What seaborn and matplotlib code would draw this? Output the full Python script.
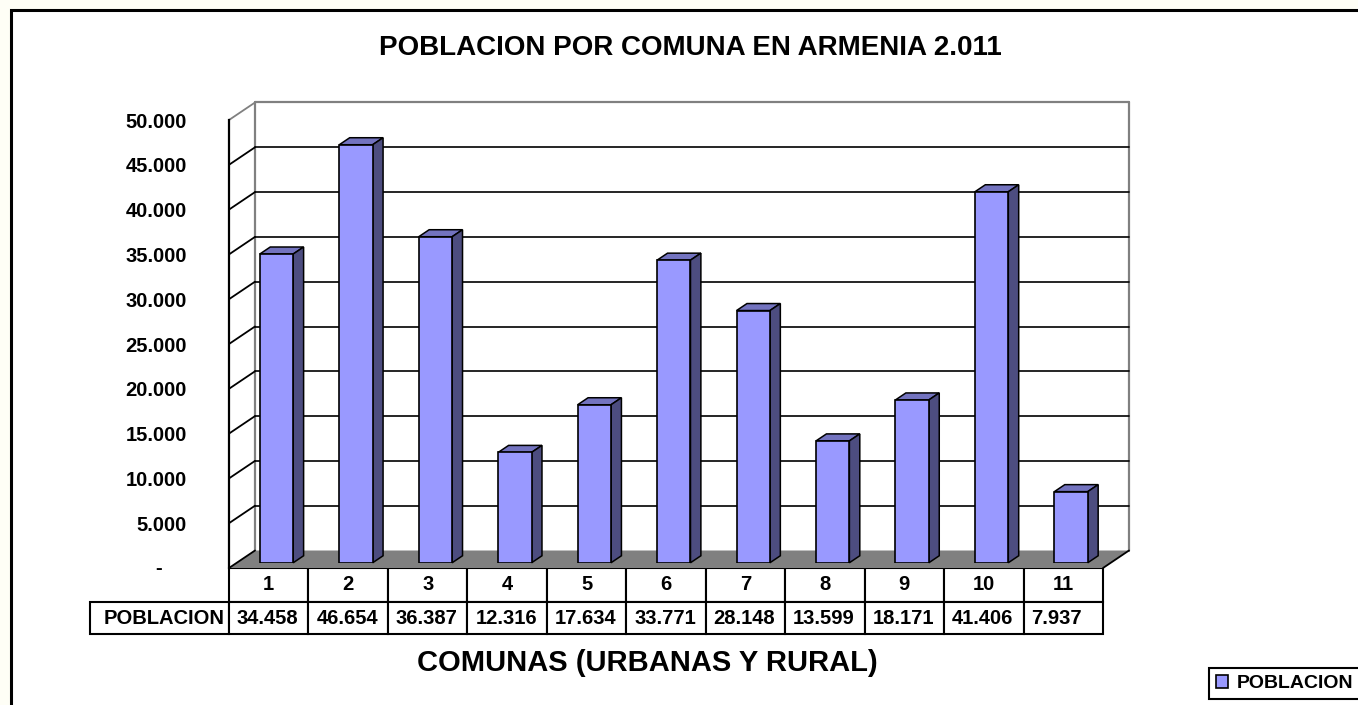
import matplotlib
matplotlib.use("Agg")
import matplotlib.pyplot as plt
import seaborn as sns
from matplotlib.patches import Polygon, Rectangle
from matplotlib.table import Table
from matplotlib.ticker import FixedLocator, FuncFormatter

# ---------------- data ----------------
comunas = ["1", "2", "3", "4", "5", "6", "7", "8", "9", "10", "11"]
poblacion = [34458, 46654, 36387, 12316, 17634, 33771, 28148, 13599, 18171, 41406, 7937]
y_ticks = [0, 5000, 10000, 15000, 20000, 25000, 30000, 35000, 40000, 45000, 50000]
series_name = "POBLACION"
title = "POBLACION POR COMUNA EN ARMENIA 2.011"
x_title = "COMUNAS (URBANAS Y RURAL)"


def fmt(v):
    return f"{int(round(v)):,}".replace(",", ".")


# ---------------- style ----------------
sns.set_style("white")
plt.rcParams["font.family"] = ["Liberation Sans", "DejaVu Sans"]
plt.rcParams["font.weight"] = "bold"
plt.rcParams["text.color"] = "black"
plt.rcParams["axes.labelcolor"] = "black"
plt.rcParams["ytick.color"] = "black"

FRONT = "#9999FF"
SIDE = "#4D4D80"
TOP = "#7373BF"
FLOOR = "#808080"
WALL = "#808080"

W, H = 1358, 705
fig = plt.figure(figsize=(W / 100, H / 100), dpi=100, facecolor="#FEFEF6")


def fx(px):
    return px / W


def fy(py):
    return 1 - py / H


# outer chart frame
fig.add_artist(Rectangle((fx(11), -0.2), 1.5, fy(10) + 0.2, transform=fig.transFigure,
                         facecolor="white", edgecolor="black", lw=2.2, zorder=-5))

# plot area (front plane) in pixels
FL, FR, FT, FB = 229, 1103, 120, 568
DX, DY = 26, 17.5          # depth of the 3D box in pixels
n = len(comunas)
ymax = y_ticks[-1]

ax = fig.add_axes([fx(FL), fy(FB), fx(FR) - fx(FL), fy(FT) - fy(FB)])
ax.set_facecolor("none")
ax.set_xlim(-0.5, n - 0.5)
ax.set_ylim(0, ymax)
for s in ["top", "right", "bottom"]:
    ax.spines[s].set_visible(False)
ax.spines["left"].set_color("black")
ax.spines["left"].set_linewidth(1.6)
ax.spines["left"].set_zorder(5)
ax.set_xticks([])
ax.yaxis.set_major_locator(FixedLocator(y_ticks))
ax.yaxis.set_major_formatter(FuncFormatter(lambda v, p: "" if v == 0 else fmt(v)))
ax.tick_params(axis="y", direction="out", length=6.5, width=1.3, color="black",
               pad=24, labelsize=14.5, labelcolor="black")
ax.annotate("-", xy=(0, 0), xycoords="axes fraction", xytext=(-50.8, 0),
            textcoords="offset points", ha="center", va="center", fontsize=14.5,
            fontweight="bold", color="black")

# depth in data units
ddx = DX / (FR - FL) * n
ddy = DY / (FB - FT) * ymax
x0, x1 = -0.5, n - 0.5

# floor
ax.add_patch(Polygon([(x0, 0), (x1, 0), (x1 + ddx, ddy), (x0 + ddx, ddy)],
                     closed=True, facecolor=FLOOR, edgecolor="none", zorder=1, clip_on=False))
ax.plot([x1, x1 + ddx], [0, ddy], color="black", lw=1.3, clip_on=False, zorder=2)

# back wall edges
ax.plot([x0 + ddx, x0 + ddx], [ddy, ymax + ddy], color=WALL, lw=1.6, clip_on=False, zorder=1)
ax.plot([x1 + ddx, x1 + ddx], [ddy, ymax + ddy], color=WALL, lw=1.6, clip_on=False, zorder=1)
ax.plot([x0 + ddx, x1 + ddx], [ymax + ddy, ymax + ddy], color=WALL, lw=1.6, clip_on=False, zorder=1)

# gridlines on back wall and side wall
for t in y_ticks:
    col = WALL if t == ymax else "black"
    ax.plot([x0, x0 + ddx], [t, t + ddy], color=col, lw=1.3, clip_on=False, zorder=2)
    if 0 < t < ymax:
        ax.plot([x0 + ddx, x1 + ddx], [t + ddy, t + ddy], color="black", lw=1.2,
                clip_on=False, zorder=1)

# data table
cat_w, lab_w = (FR - FL) / n, 139
row_h = [34, 32]
tot_w = lab_w + cat_w * n
tot_h = sum(row_h)
tbl = Table(ax, bbox=[-lab_w / (FR - FL), -tot_h / (FB - FT), tot_w / (FR - FL), tot_h / (FB - FT)])
rows = [[""] + comunas, [series_name] + [fmt(v) for v in poblacion]]
for r, row in enumerate(rows):
    for c, txt in enumerate(row):
        w = lab_w if c == 0 else cat_w
        loc = "center" if r == 0 else "left"
        cell = tbl.add_cell(r, c, width=w, height=row_h[r], text=txt, loc=loc,
                            facecolor="white", edgecolor="black")
        cell.set_linewidth(1.5)
        cell.get_text().set_fontweight("bold")
        cell.get_text().set_color("black")
        if r == 0 and c == 0:
            cell.visible_edges = "open"
            cell.set_facecolor("none")
tbl.auto_set_font_size(False)
tbl.set_fontsize(14.5)
ax.add_table(tbl)

# bars (on a plane 30% into the depth)
axb = fig.add_axes([fx(FL + 0.3 * DX), fy(FB - 0.3 * DY), fx(FR) - fx(FL), fy(FT) - fy(FB)])
sns.barplot(x=comunas, y=poblacion, ax=axb, color=FRONT, saturation=1, width=0.42,
            edgecolor="black", linewidth=1.2, label=series_name, zorder=3)
axb.set_xlim(-0.5, n - 0.5)
axb.set_ylim(0, ymax)
axb.set_facecolor("none")
axb.axis("off")
if axb.get_legend() is not None:
    axb.get_legend().remove()

bdx, bdy = 0.4 * ddx, 0.4 * ddy
for p in list(axb.patches):
    bx, bw, bh = p.get_x(), p.get_width(), p.get_height()
    axb.add_patch(Polygon([(bx, bh), (bx + bw, bh), (bx + bw + bdx, bh + bdy), (bx + bdx, bh + bdy)],
                          closed=True, facecolor=TOP, edgecolor="black", lw=1.1, zorder=2,
                          clip_on=False))
    axb.add_patch(Polygon([(bx + bw, 0), (bx + bw + bdx, bdy), (bx + bw + bdx, bh + bdy), (bx + bw, bh)],
                          closed=True, facecolor=SIDE, edgecolor="black", lw=1.1, zorder=2,
                          clip_on=False))

# titles
fig.text(fx(690), fy(48), title, ha="center", va="center", fontsize=20, fontweight="bold",
         color="black")
fig.text(fx(647), fy(663), x_title, ha="center", va="center", fontsize=21, fontweight="bold",
         color="black")

# legend (kept fully inside the canvas)
handles, labels = axb.get_legend_handles_labels()
leg = fig.legend(handles[:1], labels[:1], loc="lower left", bbox_to_anchor=(fx(1209), fy(699)),
                 bbox_transform=fig.transFigure, frameon=True, fancybox=False, edgecolor="black",
                 fontsize=14, handlelength=0.62, handleheight=0.62, handletextpad=0.45,
                 borderpad=0.35, borderaxespad=0, framealpha=1)
leg.get_frame().set_linewidth(1.5)
for t in leg.get_texts():
    t.set_color("black")

fig.savefig("out.png", dpi=100, facecolor=fig.get_facecolor())
